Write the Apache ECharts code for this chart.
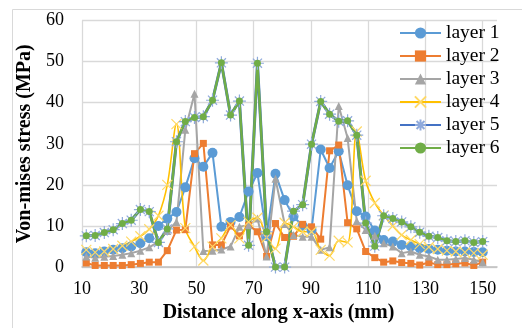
<!DOCTYPE html>
<html>
<head>
<meta charset="utf-8">
<script src="https://cdn.jsdelivr.net/npm/echarts@6/dist/echarts.min.js"></script>
<style>
html,body{margin:0;padding:0;background:#fff;}
#chart{width:522px;height:328px;}
</style>
</head>
<body>
<div id="chart"></div>
<script>
const xValues = [11.5, 14.6, 17.8, 20.9, 24.1, 27.2, 30.4, 33.5, 36.7, 39.8, 43.0, 46.1, 49.3, 52.4, 55.6, 58.7, 61.9, 65.0, 68.2, 71.3, 74.5, 77.6, 80.8, 83.9, 87.1, 90.2, 93.4, 96.5, 99.7, 102.8, 106.0, 109.1, 112.3, 115.4, 118.6, 121.7, 124.9, 128.0, 131.2, 134.3, 137.5, 140.6, 143.8, 146.9, 150.0];
const layer1 = [3.6, 3.4, 3.8, 4.2, 4.6, 5.0, 5.8, 7.0, 10.0, 11.8, 13.4, 19.4, 26.5, 24.4, 27.8, 9.8, 11.0, 12.2, 18.4, 22.9, 7.5, 22.7, 16.3, 12.3, 10.0, 9.0, 28.6, 24.1, 28.2, 19.9, 13.6, 12.3, 8.9, 6.6, 6.2, 5.4, 5.0, 4.6, 4.4, 4.2, 4.0, 3.8, 3.8, 3.7, 3.6];
const layer2 = [1.0, 0.4, 0.4, 0.4, 0.4, 0.6, 0.9, 1.2, 1.2, 4.0, 9.0, 9.1, 27.6, 30.1, 5.4, 5.4, 10.0, 7.6, 10.2, 8.6, 2.6, 10.6, 7.2, 7.5, 10.4, 9.8, 6.8, 28.3, 29.7, 10.8, 9.3, 3.8, 2.3, 1.2, 1.5, 1.1, 0.9, 0.5, 1.1, 0.6, 0.6, 0.8, 1.0, 0.4, 1.2];
const layer3 = [2.6, 2.3, 2.5, 2.7, 3.0, 3.4, 4.0, 4.8, 6.2, 8.8, 11.0, 33.4, 42.2, 3.9, 4.0, 4.3, 5.0, 9.8, 10.2, 11.8, 2.6, 21.5, 10.5, 7.8, 7.4, 7.4, 4.2, 4.8, 39.2, 31.4, 11.2, 9.0, 7.6, 5.8, 5.0, 3.4, 3.8, 3.0, 2.6, 1.8, 1.8, 2.0, 2.2, 1.8, 1.2];
const layer4 = [4.2, 3.6, 3.8, 4.4, 5.2, 6.2, 7.5, 9.2, 12.5, 20.0, 34.8, 9.5, 5.0, 1.6, 5.0, 7.0, 10.2, 7.0, 11.0, 12.0, 7.2, 4.5, 10.8, 9.8, 8.6, 8.6, 4.2, 2.8, 6.4, 6.0, 33.0, 21.0, 15.6, 12.6, 10.0, 7.8, 6.6, 5.6, 4.9, 4.4, 4.0, 3.8, 3.6, 3.4, 3.0];
const layer5 = [7.6, 7.7, 8.4, 9.1, 10.6, 11.4, 14.0, 13.5, 6.0, 9.3, 30.5, 35.4, 36.4, 36.6, 40.6, 49.7, 37.0, 40.4, 5.3, 49.6, 8.6, 0, 0, 13.6, 15.2, 29.9, 40.3, 37.2, 35.5, 35.6, 32.1, 10.7, 5.1, 12.5, 11.8, 11.0, 9.8, 8.5, 7.5, 7.2, 6.4, 6.2, 6.4, 6.0, 6.2];
const layer6 = [7.6, 7.7, 8.4, 9.1, 10.6, 11.4, 14.0, 13.5, 6.0, 9.3, 30.5, 35.4, 36.4, 36.6, 40.6, 49.7, 37.0, 40.4, 5.3, 49.6, 8.6, 0, 0, 13.6, 15.2, 29.9, 40.3, 37.2, 35.5, 35.6, 32.1, 10.7, 5.1, 12.5, 11.8, 11.0, 9.8, 8.5, 7.5, 7.2, 6.4, 6.2, 6.4, 6.0, 6.2];
const seriesNames = ['layer 1', 'layer 2', 'layer 3', 'layer 4', 'layer 5', 'layer 6'];
const xTitle = 'Distance along x-axis (mm)';
const yTitle = 'Von-mises stress (MPa)';

function pairs(ys) { return xValues.map((x, i) => [x, ys[i]]); }

const serif = 'Liberation Serif';
const xSym = 'path://M0,0 L10,10 M10,0 L0,10';
const starSym = 'path://M0,5 L10,5 M5,0 L5,10 M1.5,1.5 L8.5,8.5 M8.5,1.5 L1.5,8.5';

const chart = echarts.init(document.getElementById('chart'), null, {renderer: 'canvas'});
const gridCol = '#d9d9d9';
const vSplitColors = [gridCol, gridCol, gridCol, gridCol, gridCol, gridCol, gridCol, gridCol, 'rgba(0,0,0,0)'];

chart.setOption({
  animation: false,
  backgroundColor: '#fff',
  graphic: [{
    type: 'rect', z: -10, silent: true,
    shape: {x: 12.5, y: 9.5, width: 700, height: 500},
    style: {fill: 'none', stroke: '#d9d9d9', lineWidth: 1}
  }],
  grid: {left: 82, top: 20.5, right: 25, bottom: 57, containLabel: false},
  legend: {
    orient: 'vertical',
    left: 399, top: 23, padding: 0,
    itemWidth: 41, itemHeight: 14, itemGap: 3,
    textStyle: {fontFamily: serif, fontSize: 19.5, color: '#000', lineHeight: 19},
    data: seriesNames
  },
  xAxis: {
    type: 'value', min: 10, max: 155, interval: 20,
    name: xTitle, nameLocation: 'middle', nameGap: 31,
    nameTextStyle: {fontFamily: serif, fontWeight: 'bold', fontSize: 20, color: '#000', padding: [0, 22, 0, 0]},
    axisLine: {show: true, lineStyle: {color: '#bfbfbf', width: 1.5}},
    axisTick: {show: false},
    axisLabel: {fontFamily: serif, fontSize: 18, color: '#000', margin: 13, showMaxLabel: false},
    splitLine: {show: true, lineStyle: {color: vSplitColors, width: 1.3}}
  },
  yAxis: {
    type: 'value', min: 0, max: 60, interval: 10,
    name: yTitle, nameLocation: 'middle', nameGap: 41, nameRotate: 90,
    nameTextStyle: {fontFamily: serif, fontWeight: 'bold', fontSize: 20, color: '#000'},
    axisLine: {show: false},
    axisTick: {show: false},
    axisLabel: {fontFamily: serif, fontSize: 18, color: '#000', margin: 18},
    splitLine: {show: true, lineStyle: {color: gridCol, width: 1.3}}
  },
  series: [
    {name: 'layer 1', type: 'line', data: pairs(layer1), symbol: 'circle', symbolSize: 10,
     lineStyle: {color: '#5B9BD5', width: 2}, itemStyle: {color: '#5B9BD5'}},
    {name: 'layer 2', type: 'line', data: pairs(layer2), symbol: 'rect', symbolSize: 7,
     lineStyle: {color: '#ED7D31', width: 2}, itemStyle: {color: '#ED7D31'}},
    {name: 'layer 3', type: 'line', data: pairs(layer3), symbol: 'triangle', symbolSize: 8,
     lineStyle: {color: '#A5A5A5', width: 2}, itemStyle: {color: '#A5A5A5'}},
    {name: 'layer 4', type: 'line', data: pairs(layer4), symbol: xSym, symbolSize: 10, smooth: 0.35,
     lineStyle: {color: '#FFC000', width: 1.6},
     itemStyle: {color: 'rgba(0,0,0,0)', borderColor: '#FFD966', borderWidth: 1.2}},
    {name: 'layer 5', type: 'line', data: pairs(layer5), symbol: starSym, symbolSize: 13,
     lineStyle: {color: '#4472C4', width: 3},
     itemStyle: {color: 'rgba(0,0,0,0)', borderColor: '#8FAADC', borderWidth: 1.2}},
    {name: 'layer 6', type: 'line', data: pairs(layer6), symbol: 'circle', symbolSize: 7,
     lineStyle: {color: '#70AD47', width: 2.5}, itemStyle: {color: '#70AD47'}}
  ]
});
</script>
</body>
</html>
